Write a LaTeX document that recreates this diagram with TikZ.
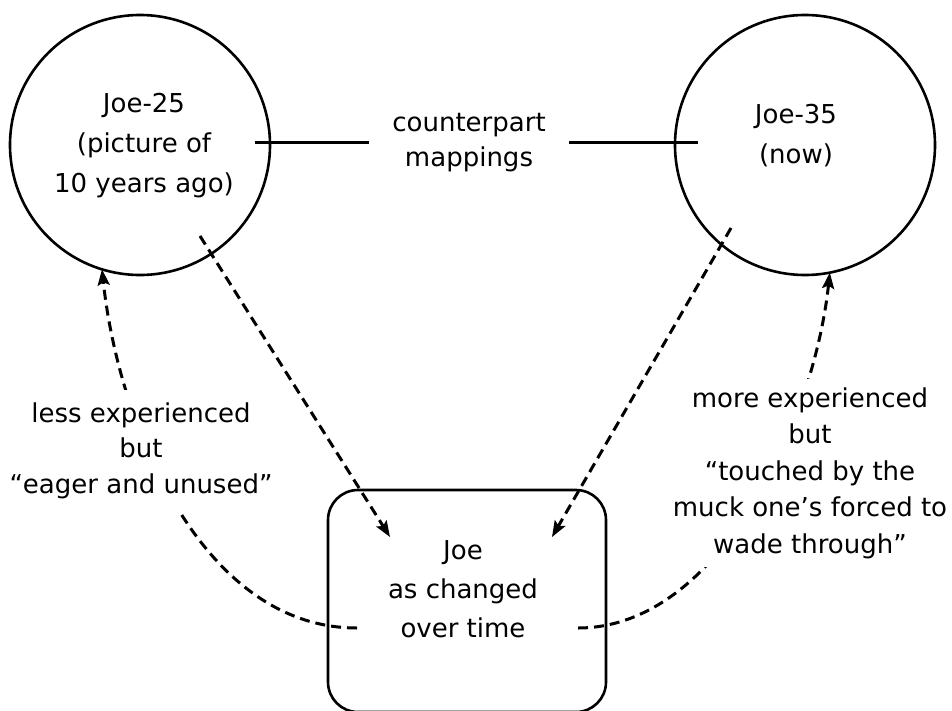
\documentclass[tikz,border=0pt]{standalone}
\usepackage{fontspec}
\setmainfont{DejaVu Sans}
\usetikzlibrary{arrows.meta}
\begin{document}
\begin{tikzpicture}[x=1pt,y=-1pt,
  sline/.style={line width=2.6pt},
  dline/.style={line width=3pt, dash pattern=on 10pt off 6pt},
  arr/.style={dline, -{Stealth[length=16pt,width=12pt,inset=3pt]}},
  circ/.style={circle, draw, line width=2.6pt, minimum size=260pt, inner sep=0pt, outer sep=0pt},
  txt/.style={align=center, inner sep=0pt},
]
\path[use as bounding box, fill=white] (0,0) rectangle (952,711);

% main shapes
\node[circ] (J25) at (140,145) {};
\node[circ] (J35) at (805,145) {};
\node[draw, sline, rounded corners=30pt, minimum width=278pt, minimum height=222pt,
      inner sep=0pt, outer sep=0pt] (box) at (467,601) {};

% texts inside shapes
\node[txt, font=\fontsize{26}{40}\selectfont] (t25) at (144,145.5) {Joe-25\\(picture of\\10 years ago)};
\node[txt, font=\fontsize{26}{40}\selectfont] (t35) at (796,136) {Joe-35\\(now)};
\node[txt, font=\fontsize{26}{39}\selectfont] (tbox) at (463,589.5) {Joe\\as changed\\over time};
\node[txt, font=\fontsize{26}{35}\selectfont] (cp) at (469,142.5) {counterpart\\mappings};

% counterpart lines
\draw[sline, shorten <=23pt, shorten >=-15pt] (cp.west) -- (cp.west -| J25.east);
\draw[sline, shorten <=23pt, shorten >=-23pt] (cp.east) -- (cp.east -| J35.west);

% straight dashed arrows
\coordinate (a1s) at ([shift={(60,91)}]J25.center);
\coordinate (a1e) at ([shift={(-77,-64)}]box.center);
\coordinate (a2s) at ([shift={(-74,83)}]J35.center);
\coordinate (a2e) at ([shift={(85,-64)}]box.center);
\draw[arr] (a1s) -- (a1e);
\draw[arr] (a2s) -- (a2e);

% curved dashed arrows
\coordinate (c1s) at ([shift={(-110,27)}]box.center);
\coordinate (c2s) at ([shift={(111,27)}]box.center);
\draw[arr] (c1s) .. controls (200,628) and (118,421) .. (J25.253);
\draw[arr] (c2s) .. controls (720,628) and (814,421) .. (J35.281);

% labels on the curves
\node[txt, fill=white, inner xsep=4pt, inner ysep=12pt, font=\fontsize{26}{35.5}\selectfont]
  (lless) at (141,450.5) {less experienced\\but\\“eager and unused”};
\node[txt, fill=white, inner xsep=4pt, inner ysep=8pt, font=\fontsize{26}{36.5}\selectfont]
  (lmore) at (810,473) {more experienced\\but\\“touched by the\\muck one’s forced to\\wade through”};
\end{tikzpicture}
\end{document}
